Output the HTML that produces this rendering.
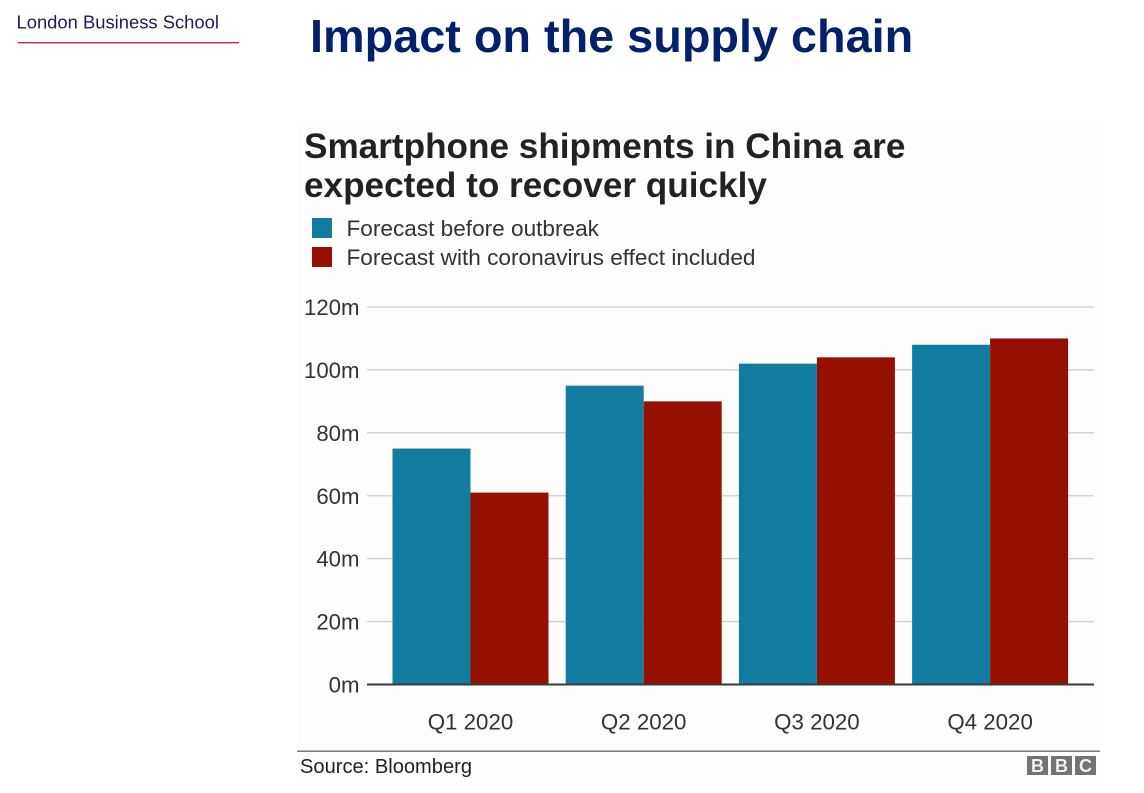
<!DOCTYPE html>
<html lang="en">
<head>
<meta charset="utf-8">
<title>Impact on the supply chain</title>
<style>
html,body{margin:0;padding:0;background:#fff;}
body{width:1144px;height:793px;overflow:hidden;position:relative;}
svg{position:absolute;left:0;top:0;display:block;}
text{font-family:"Liberation Sans",sans-serif;}
</style>
</head>
<body>
<svg id="chart" width="1144" height="793" viewBox="0 0 1144 793" xmlns="http://www.w3.org/2000/svg">
  <rect x="297" y="125" width="803" height="655" fill="#fdfdfd"/>
  <text x="16.5" y="28.5" font-size="18.4" fill="#1f1a5c">London Business School</text>
  <rect x="18" y="42" width="221" height="1.4" fill="#d8213f"/>
  <text x="310" y="52" font-size="46.8" font-weight="700" fill="#03216b">Impact on the supply chain</text>
  <text x="304" y="158" font-size="35.15" font-weight="700" fill="#222222">Smartphone shipments in China are</text>
  <text x="304" y="197" font-size="35.15" font-weight="700" fill="#222222">expected to recover quickly</text>
  <rect x="312" y="218" width="20" height="20" fill="#117ba0"/>
  <text x="346.5" y="236" font-size="22.6" fill="#333333">Forecast before outbreak</text>
  <rect x="312" y="247" width="20" height="20" fill="#951000"/>
  <text x="346.5" y="265" font-size="22.6" fill="#333333">Forecast with coronavirus effect included</text>
  <g id="grid"></g>
  <g id="bars"></g>
  <g id="labels"></g>
  <rect x="297" y="750.5" width="803" height="1.4" fill="#6b6b6b"/>
  <text x="300" y="773" font-size="20.1" fill="#222222">Source: Bloomberg</text>
  <g>
    <rect x="1027" y="756" width="21" height="19" fill="#737373"/>
    <text x="1037.5" y="772" font-size="18" font-weight="700" fill="#f2f2f2" text-anchor="middle">B</text>
    <rect x="1051" y="756" width="21" height="19" fill="#737373"/>
    <text x="1061.5" y="772" font-size="18" font-weight="700" fill="#f2f2f2" text-anchor="middle">B</text>
    <rect x="1075" y="756" width="21" height="19" fill="#737373"/>
    <text x="1085.5" y="772" font-size="18" font-weight="700" fill="#f2f2f2" text-anchor="middle">C</text>
  </g>
</svg>
<script>
const categories = ["Q1 2020", "Q2 2020", "Q3 2020", "Q4 2020"];
const beforeOutbreak = [75, 95, 102, 108];
const withCoronavirus = [61, 90, 104, 110];
const tickValues = [0, 20, 40, 60, 80, 100, 120];
const tickLabels = ["0m", "20m", "40m", "60m", "80m", "100m", "120m"];

const SVG_NS = "http://www.w3.org/2000/svg";
const plot = { left: 367, right: 1094, y0: 684.5, y120: 307, yMax: 120, firstBand: 392.5, bandStep: 173.2, barWidth: 78 };
function yScale(v) { return plot.y0 - (v / plot.yMax) * (plot.y0 - plot.y120); }
function bandStart(i) { return plot.firstBand + i * plot.bandStep; }
function make(tag, attrs, parent) {
  const el = document.createElementNS(SVG_NS, tag);
  Object.keys(attrs).forEach(function (k) { el.setAttribute(k, attrs[k]); });
  parent.appendChild(el);
  return el;
}
const gridLayer = document.getElementById("grid");
const barLayer = document.getElementById("bars");
const labelLayer = document.getElementById("labels");

tickValues.forEach(function (v, i) {
  if (v !== 0) {
    const line = make("line", { x1: plot.left, x2: plot.right, y1: yScale(v), y2: yScale(v), stroke: "#cfcfcf", "stroke-width": 1.3 }, gridLayer);
    
    
  }
  const t = make("text", { x: 359.5, y: yScale(v) + 8, "font-size": 22.2, fill: "#333333", "text-anchor": "end" }, labelLayer);
  t.textContent = tickLabels[i];
  
  
});

categories.forEach(function (c, i) {
  const x = bandStart(i);
  const blue = make("rect", { x: x, y: yScale(beforeOutbreak[i]), width: plot.barWidth, height: yScale(0) - yScale(beforeOutbreak[i]), fill: "#117ba0" }, barLayer);
  
  
  const red = make("rect", { x: x + plot.barWidth, y: yScale(withCoronavirus[i]), width: plot.barWidth, height: yScale(0) - yScale(withCoronavirus[i]), fill: "#951000" }, barLayer);
  
  
  const t = make("text", { x: x + plot.barWidth, y: 729.5, "font-size": 22.3, fill: "#333333", "text-anchor": "middle" }, labelLayer);
  t.textContent = c;
  
  
});

const axis = make("line", { x1: plot.left, x2: plot.right, y1: yScale(0), y2: yScale(0), stroke: "#3a3a3a", "stroke-width": 2 }, barLayer);


</script>
</body>
</html>
